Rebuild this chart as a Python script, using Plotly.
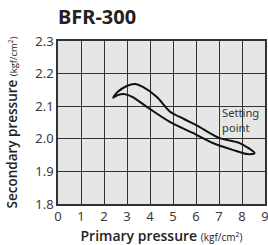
import plotly.graph_objects as go

# Upper branch (rising pressure) then lower branch (returning)
upper_x = [2.40, 2.60, 2.99, 3.34, 3.69, 4.30, 4.86, 5.50, 6.16, 7.03, 7.90, 8.55]
upper_y = [2.126, 2.144, 2.162, 2.168, 2.159, 2.128, 2.084, 2.060, 2.036, 2.002, 1.987, 1.956]
lower_x = [8.24, 7.60, 6.73, 5.86, 4.86, 3.86, 3.25, 2.91, 2.60, 2.40]
lower_y = [1.953, 1.966, 1.987, 2.018, 2.052, 2.098, 2.128, 2.137, 2.134, 2.126]

x_ticks = [0, 1, 2, 3, 4, 5, 6, 7, 8, 9]
y_ticks = [1.8, 1.9, 2.0, 2.1, 2.2, 2.3]
y_tick_labels = ["1.8", "1.9", "2.0", "2.1", "2.2", "2.3"]

label_text = "Setting<br>point"
label_x = 7.1
label_y = 2.058

FONT = "Noto Sans"
TFONT = "Open Sans"

fig = go.Figure()
fig.add_trace(go.Scatter(
    x=upper_x + lower_x, y=upper_y + lower_y, mode="lines",
    line=dict(color="#111111", width=2, shape="spline", smoothing=0.8),
    hoverinfo="skip", showlegend=False))

fig.add_annotation(x=label_x, y=label_y, xref="x", yref="y", text=label_text,
                   showarrow=False, xanchor="left", yanchor="middle", align="left",
                   borderpad=0, font=dict(family=FONT, size=11.2, color="#333333"))

fig.update_layout(
    width=268, height=245,
    margin=dict(l=58, r=3, t=41, b=41, autoexpand=False),
    paper_bgcolor="white", plot_bgcolor="#e6e6e6",
    title=dict(text="<b>BFR-300</b>", x=58/268, xanchor="left", y=0.93, yanchor="middle",
               font=dict(family=FONT, size=20, color="#222222")),
    xaxis=dict(range=[0, 9], tickvals=x_ticks, showgrid=True, gridcolor="#333333", gridwidth=1.4,
               showline=True, linecolor="#333333", linewidth=1.5, mirror=True, automargin=False,
               zeroline=False, ticks="", ticklabeloverflow="allow",
               tickfont=dict(family=FONT, size=13, color="#3a3a3a"),
               title=dict(text="Primary pressure <span style='font-size:10px;font-weight:400'>(kgf/cm<sup>2</sup>)</span>",
                          font=dict(family=TFONT, size=14, color="#222222", weight=600))),
    yaxis=dict(range=[1.8, 2.3], tickvals=y_ticks, ticktext=y_tick_labels, showgrid=True,
               gridcolor="#333333", gridwidth=1.4, automargin=False,
               showline=True, linecolor="#333333", linewidth=1.5, mirror=True,
               zeroline=False, ticks="", tickfont=dict(family=FONT, size=13, color="#3a3a3a"),
               title=dict(text="Secondary pressure <span style='font-size:9.5px;font-weight:400'>(kgf/cm<sup>2</sup>)</span>",
                          font=dict(family=TFONT, size=13.5, color="#222222", weight=600))),
)

fig.write_html("out.html", config={"displayModeBar": False},
               post_script="document.body.style.margin='0';document.body.style.overflow='hidden';")
